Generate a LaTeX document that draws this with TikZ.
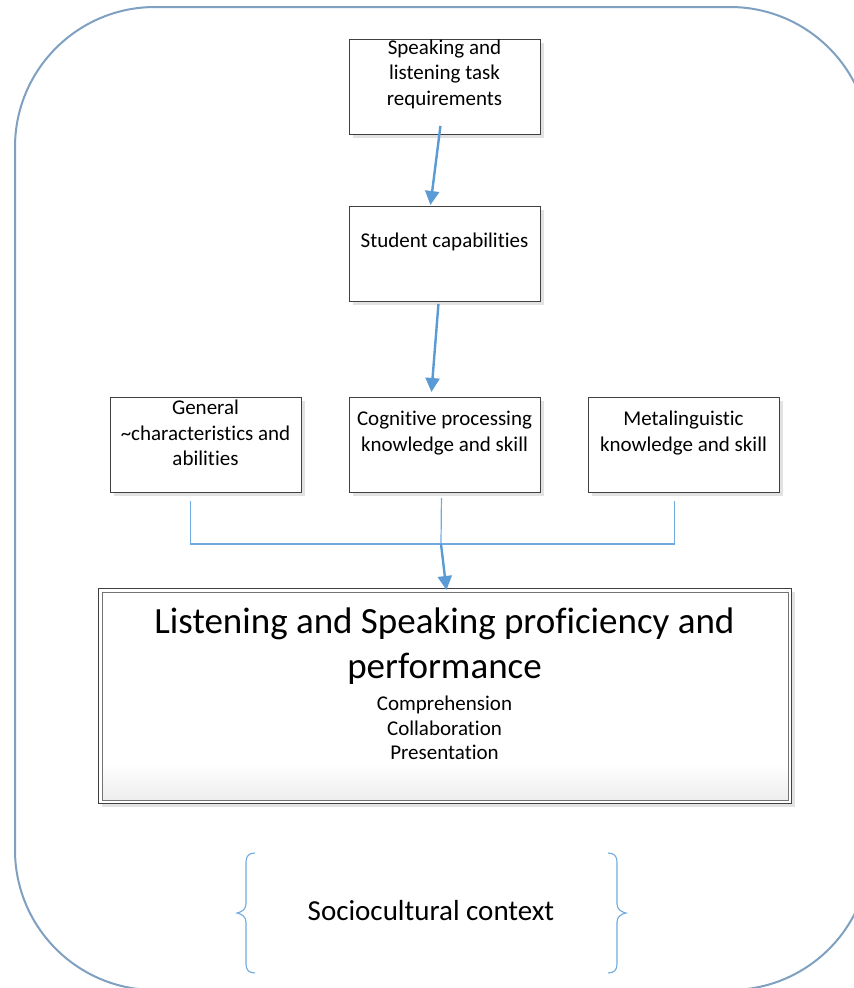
\documentclass[tikz,border=0pt]{standalone}
\usepackage{fontspec}
\setmainfont{Carlito}[Ligatures=NoCommon]
\usetikzlibrary{arrows.meta,calc,shadows}

\definecolor{framecol}{RGB}{127,160,193}
\definecolor{arrowcol}{RGB}{91,155,213}
\definecolor{thincol}{RGB}{112,170,222}
\definecolor{boxline}{RGB}{64,64,64}
\definecolor{shadowcol}{RGB}{226,226,226}

\tikzset{
  stepbox/.style={draw=boxline, line width=0.9pt, fill=white, minimum width=191pt,
    minimum height=95pt, inner sep=0pt, anchor=north west,
    drop shadow={shadow xshift=4pt, shadow yshift=-4pt, fill=shadowcol, opacity=1}},
  bigbox/.style={draw=boxline, line width=0.9pt, fill=white, minimum width=693pt,
    minimum height=215pt, inner sep=0pt, anchor=north west,
    drop shadow={shadow xshift=4pt, shadow yshift=-4pt, fill=shadowcol, opacity=1}},
  boxtext/.style={font=\fontsize{21}{25.5}\selectfont, align=center, inner sep=0pt},
  arr/.style={draw=arrowcol, line width=2.4pt, -{Triangle[length=14pt,width=14pt]}},
  thinline/.style={draw=thincol, line width=1.2pt},
  bracestyle/.style={draw=thincol, line width=1.1pt},
}

\begin{document}
\begin{tikzpicture}[x=1pt,y=-1pt]
\clip (0,0) rectangle (854,988);
\fill[white] (0,0) rectangle (854,988);

% outer frame
\draw[framecol, line width=2pt, rounded corners=140pt] (15,7) rectangle (870,990);

% boxes
\node[stepbox] (top) at (349,39) {};
\node[stepbox] (stu) at (349,206) {};
\node[stepbox] (gen) at (110,397) {};
\node[stepbox] (cog) at (349,397) {};
\node[stepbox] (meta) at (588,397) {};
\node[bigbox] (big) at (98,588) {};

% big box inner border and gradient
\shade[top color=white, bottom color=black!7]
  ($(big.south west)+(4,-40)$) rectangle ($(big.south east)+(-4,-4)$);
\draw[black!55, line width=0.8pt]
  ($(big.north west)+(4,4)$) rectangle ($(big.south east)+(-4,-4)$);

% texts
\node[boxtext] (ttop) at (444.5,74) {Speaking and\\listening task\\requirements};
\node[boxtext] (tstu) at (444.5,242) {Student capabilities};
\node[boxtext] (tgen) at (205.5,433) {General\\\textasciitilde characteristics and\\abilities};
\node[boxtext] (tcog) at (444.5,433) {Cognitive processing\\knowledge and skill};
\node[boxtext] (tmeta) at (683.5,433) {Metalinguistic\\knowledge and skill};
\node[font=\fontsize{37}{45}\selectfont, align=center, inner sep=0pt] (tbig) at (444.5,646)
  {Listening and Speaking proficiency and\\performance};
\node[font=\fontsize{21}{24.5}\selectfont, align=center, inner sep=0pt] (tsub) at (444.5,728)
  {Comprehension\\Collaboration\\Presentation};

% arrows
\draw[arr] ($(top.south)+(-4.5,-9)$) -- ($(stu.north)+(-14.5,-1)$);
\draw[arr] ($(stu.south)+(-6.5,2)$) -- ($(cog.north)+(-13.5,-5)$);

% joining lines
\coordinate (j) at (441,544);
\draw[thinline] ($(gen.south)+(-15.5,8)$) |- ($(meta.south)+(-9.5,51)$) -- ($(meta.south)+(-9.5,8)$);
\draw[thinline] ($(cog.south)+(-3.5,5)$) -- (j);
\draw[arr] (j) -- ($(big.north)+(1.5,2)$);

% braces
\draw[bracestyle] (255,853) .. controls (249,853) and (246,856) .. (246,862) -- (246,904)
  .. controls (246,909) and (242,912) .. (237,913)
  .. controls (242,914) and (246,917) .. (246,922) -- (246,964)
  .. controls (246,970) and (249,973) .. (255,973);
\draw[bracestyle] (608,853) .. controls (614,853) and (617,856) .. (617,862) -- (617,904)
  .. controls (617,909) and (621,912) .. (626,913)
  .. controls (621,914) and (617,917) .. (617,922) -- (617,964)
  .. controls (617,970) and (614,973) .. (608,973);
\node[font=\fontsize{29}{33}\selectfont, inner sep=0pt] (soc) at (431,911) {Sociocultural context};
\end{tikzpicture}
\end{document}
